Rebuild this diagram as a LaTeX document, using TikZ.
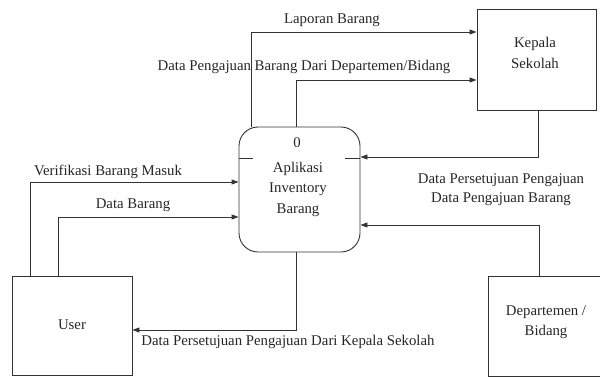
\documentclass[tikz,border=0pt]{standalone}
\usepackage{fontspec}
\setmainfont{Liberation Serif}
\usetikzlibrary{arrows.meta}
\begin{document}
\begin{tikzpicture}[x=1pt,y=-1pt,
  ent/.style={draw=black!80,line width=0.9pt,rectangle,inner sep=0pt},
  procbox/.style={draw=black!80,line width=0.9pt,rectangle,rounded corners=19pt,inner sep=0pt},
  flow/.style={draw=black!80,line width=0.9pt,-{Triangle[length=7pt,width=5pt]}},
  lbl/.style={inner sep=0pt,text=black!85,font=\fontsize{14.8}{20.5}\selectfont,align=center}]
\clip (0,0) rectangle (600,377);
\useasboundingbox (0,0) rectangle (600,377);
% entities
\node[ent,minimum width=119pt,minimum height=101pt] (kep) at (536.5,59.5) {};
\node[procbox,minimum width=121pt,minimum height=125pt] (proc) at (299.5,189.5) {};
\node[ent,minimum width=120pt,minimum height=99pt] (user) at (72,325.5) {};
\node[ent,minimum width=120pt,minimum height=100pt] (dept) at (548,326) {};
% texts inside
\node[lbl] (kepT) at (535,53) {Kepala\\Sekolah};
\node[lbl] (procN) at (297,143) {0};
\node[lbl] (procT) at (298,189) {Aplikasi\\Inventory\\Barang};
\node[lbl] (userT) at (72,325) {User};
\node[lbl] (deptT) at (546,322) {Departemen /\\Bidang};
% divider ticks
\draw[draw=black!80,line width=0.9pt] (proc.west |- 0,158) -- ++(14,0);
\draw[draw=black!80,line width=0.9pt] (proc.east |- 0,158) -- ++(-15,0);
% bend points
\coordinate (b1) at (251,32);
\coordinate (b2) at (296,80);
\coordinate (b3) at (538,157);
\coordinate (b4) at (539,225);
\coordinate (b5) at (30,182);
\coordinate (b6) at (58,217);
\coordinate (b7) at (296,330);
% flows
\draw[flow] (b1 |- proc.north) -- (b1) -- (b1 -| kep.west);
\draw[flow] (b2 |- proc.north) -- (b2) -- (b2 -| kep.west);
\draw[flow] (b3 |- kep.south) -- (b3) -- (b3 -| proc.east);
\draw[flow] (b4 |- dept.north) -- (b4) -- (b4 -| proc.east);
\draw[flow] (b5 |- user.north) -- (b5) -- (b5 -| proc.west);
\draw[flow] (b6 |- user.north) -- (b6) -- (b6 -| proc.west);
\draw[flow] (b7 |- proc.south) -- (b7) -- (b7 -| user.east);
% flow labels
\node[lbl] (l1) at (332,20) {Laporan Barang};
\node[lbl] (l2) at (304,67) {Data Pengajuan Barang Dari Departemen/Bidang};
\node[lbl] (l3) at (501,180) {Data Persetujuan Pengajuan};
\node[lbl] (l4) at (501,199) {Data Pengajuan Barang};
\node[lbl] (l5) at (108,172) {Verifikasi Barang Masuk};
\node[lbl] (l6) at (133,205) {Data Barang};
\node[lbl] (l7) at (288,342) {Data Persetujuan Pengajuan Dari Kepala Sekolah};
\end{tikzpicture}
\end{document}
